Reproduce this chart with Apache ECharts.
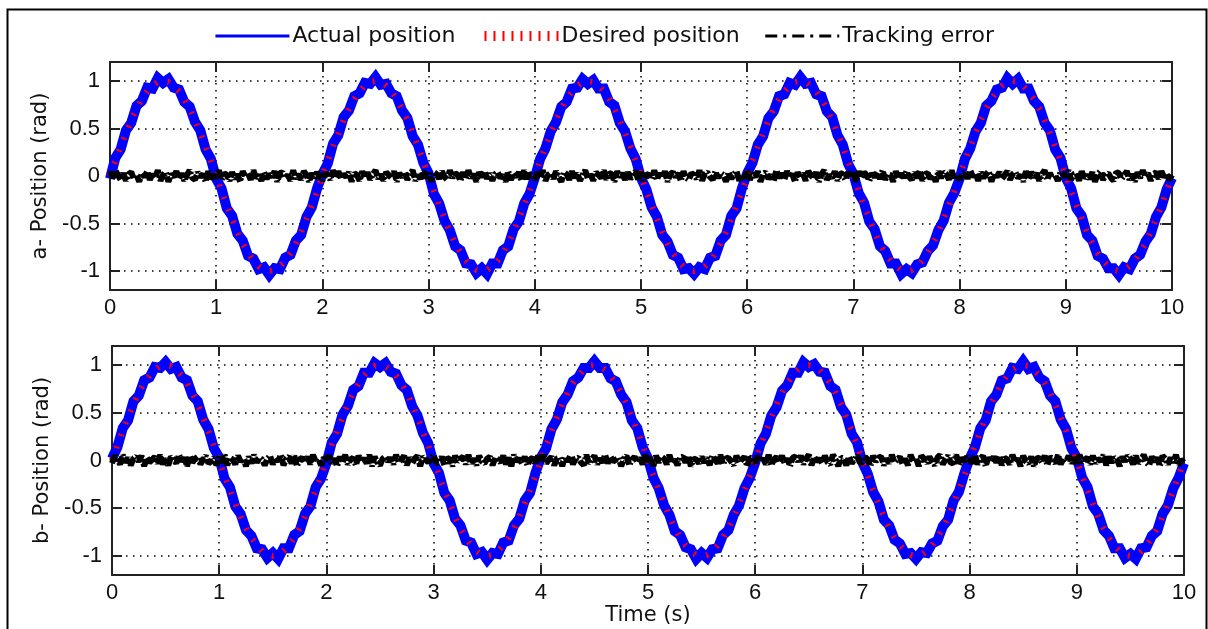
<!DOCTYPE html>
<html><head><meta charset="utf-8">
<script src="https://cdn.jsdelivr.net/npm/echarts@6/dist/echarts.min.js"></script>
<style>html,body{margin:0;padding:0;background:#fff}#c{width:1208px;height:629px}</style>
</head><body><div id="c"></div>
<script>
// Sampling steps (s)
const posStep = 0.05;
const errStep = 0.025;
const xTicks = [0,1,2,3,4,5,6,7,8,9,10];
const seriesNames = ['Actual position', 'Desired position', 'Tracking error'];

// Desired position (rad), t = 0..10 step 0.05 (same reference in both panels)
const desiredPosition = [
0,.16,.31,.45,.59,.71,.81,.89,.95,.99,1,.99,.95,.89,.81,.71,.59,.45,.31,.16,0,-.16,-.31,-.45,-.59,-.71,-.81,-.89,-.95,-.99,-1,-.99,-.95,-.89,-.81,-.71,-.59,-.45,-.31,-.16,
0,.16,.31,.45,.59,.71,.81,.89,.95,.99,1,.99,.95,.89,.81,.71,.59,.45,.31,.16,0,-.16,-.31,-.45,-.59,-.71,-.81,-.89,-.95,-.99,-1,-.99,-.95,-.89,-.81,-.71,-.59,-.45,-.31,-.16,
0,.16,.31,.45,.59,.71,.81,.89,.95,.99,1,.99,.95,.89,.81,.71,.59,.45,.31,.16,0,-.16,-.31,-.45,-.59,-.71,-.81,-.89,-.95,-.99,-1,-.99,-.95,-.89,-.81,-.71,-.59,-.45,-.31,-.16,
0,.16,.31,.45,.59,.71,.81,.89,.95,.99,1,.99,.95,.89,.81,.71,.59,.45,.31,.16,0,-.16,-.31,-.45,-.59,-.71,-.81,-.89,-.95,-.99,-1,-.99,-.95,-.89,-.81,-.71,-.59,-.45,-.31,-.16,
0,.16,.31,.45,.59,.71,.81,.89,.95,.99,1,.99,.95,.89,.81,.71,.59,.45,.31,.16,0,-.16,-.31,-.45,-.59,-.71,-.81,-.89,-.95,-.99,-1,-.99,-.95,-.89,-.81,-.71,-.59,-.45,-.31,-.16,
0];

// Actual position, panel a (rad), step 0.05
const actualA = [
-.03,.19,.28,.48,.56,.74,.79,.93,.92,1.03,.98,1.02,.93,.91,.78,.73,.57,.48,.28,.18,-.03,-.13,-.34,-.42,-.61,-.68,-.84,-.87,-.98,-.96,-1.04,-.97,-.98,-.86,-.83,-.68,-.62,-.43,-.33,-.13,
.02,.13,.34,.43,.62,.69,.84,.87,.98,.97,1.04,.96,.97,.87,.84,.69,.61,.42,.33,.14,.03,-.19,-.29,-.47,-.57,-.74,-.78,-.92,-.93,-1.02,-.97,-1.03,-.92,-.92,-.78,-.74,-.56,-.48,-.29,-.19,
-.02,.18,.29,.47,.57,.73,.78,.92,.93,1.02,.97,1.01,.92,.92,.78,.74,.56,.47,.29,.18,-.02,-.14,-.33,-.43,-.62,-.69,-.83,-.86,-.98,-.97,-1.03,-.96,-.98,-.86,-.84,-.68,-.62,-.42,-.34,-.13,
.03,.14,.33,.42,.61,.68,.84,.86,.98,.96,1.04,.97,.98,.86,.84,.68,.62,.43,.33,.13,.02,-.18,-.28,-.48,-.56,-.74,-.79,-.92,-.92,-1.03,-.98,-1.02,-.93,-.91,-.79,-.73,-.57,-.47,-.28,-.18,
-.03,.18,.29,.47,.56,.74,.79,.91,.93,1.03,.97,1.02,.92,.92,.79,.73,.56,.48,.28,.19,-.02,-.13,-.34,-.42,-.62,-.68,-.84,-.87,-.97,-.97,-1.04,-.96,-.98,-.87,-.83,-.69,-.61,-.43,-.33,-.14,
-.02];

// Actual position, panel b (rad), step 0.05
const actualB = [
.02,.14,.34,.42,.62,.68,.84,.87,.98,.97,1.03,.96,.98,.87,.84,.68,.62,.43,.33,.13,.03,-.19,-.28,-.48,-.56,-.73,-.79,-.92,-.93,-1.02,-.97,-1.03,-.92,-.92,-.78,-.74,-.56,-.48,-.28,-.19,
-.03,.19,.28,.48,.57,.74,.78,.92,.92,1.02,.98,1.02,.93,.91,.79,.74,.57,.47,.29,.18,-.03,-.13,-.34,-.42,-.61,-.68,-.84,-.86,-.98,-.96,-1.04,-.97,-.98,-.86,-.84,-.68,-.61,-.42,-.34,-.13,
.03,.13,.33,.43,.61,.69,.83,.87,.97,.97,1.04,.97,.97,.86,.83,.69,.61,.42,.34,.14,.02,-.18,-.29,-.47,-.57,-.74,-.78,-.91,-.93,-1.03,-.97,-1.02,-.93,-.92,-.78,-.73,-.57,-.47,-.29,-.18,
-.02,.18,.28,.47,.56,.73,.79,.92,.92,1.03,.98,1.01,.93,.92,.78,.74,.56,.48,.28,.19,-.02,-.14,-.33,-.43,-.62,-.68,-.83,-.87,-.98,-.97,-1.03,-.96,-.97,-.87,-.84,-.69,-.62,-.42,-.33,-.14,
.02,.14,.34,.42,.62,.69,.84,.86,.97,.96,1.04,.96,.98,.87,.83,.68,.62,.43,.33,.13,.03,-.18,-.28,-.48,-.56,-.73,-.79,-.92,-.92,-1.02,-.98,-1.03,-.92,-.91,-.79,-.74,-.56,-.47,-.29,-.18,
-.03];

// Tracking error, panel a (rad), step 0.025
const errorA = [
.05,-.02,.06,.01,-.04,.03,-.05,.02,.04,-.03,.01,-.06,.03,-.01,.05,-.04,.02,-.02,.06,-.05,
.01,.04,-.06,.02,-.01,.05,-.03,.03,-.05,.01,.06,-.02,-.04,.04,-.01,.02,-.06,.05,-.03,.01,
-.02,.06,-.04,.03,.01,-.05,.04,-.03,.02,-.06,.05,-.01,.03,-.04,.06,-.02,.01,-.05,.04,-.03,
.02,-.01,.05,-.06,.03,.04,-.02,.01,-.05,.06,-.03,.02,-.04,.05,.01,-.06,.03,-.02,.04,-.01,
-.05,.03,.01,-.04,.06,-.02,.05,-.03,.02,-.01,.04,-.06,.03,.01,-.05,.05,-.02,.04,-.04,.02,
.06,-.03,.02,-.05,.04,.01,-.02,.05,-.06,.03,-.01,.04,-.04,.02,.06,-.05,.01,-.03,.05,-.02,
.03,-.06,.04,.02,-.03,.05,-.01,-.04,.06,-.02,.03,.01,-.05,.04,-.03,.06,-.02,.02,-.06,.04,
-.01,.05,-.03,.03,-.05,.02,.04,-.02,.01,-.06,.05,-.04,.03,-.01,.04,-.05,.06,-.03,.02,.01,
-.04,.04,-.02,.06,-.05,.01,.03,-.03,.05,-.01,-.06,.04,.02,-.04,.05,-.02,.03,-.05,.01,.06,
-.03,.02,-.05,.04,.01,-.02,.06,-.04,.03,.02,-.06,.05,-.01,.03,-.04,.04,-.03,.01,.05,-.05,
.04,-.05,.02,.01,-.03,.06,-.04,.03,-.02,.05,-.06,.02,.04,-.01,.03,-.05,.05,-.02,-.04,.03,
.01,-.03,.06,-.05,.02,.04,-.01,-.04,.05,-.02,.03,.01,-.06,.04,-.03,.02,.05,-.05,.01,-.02,
.06,-.04,.03,-.01,.05,-.06,.02,.04,-.03,.01,-.05,.06,-.02,.03,-.04,.05,-.01,.02,-.06,.04,
-.02,.03,-.05,.05,.01,-.03,.04,-.06,.02,.06,-.04,.01,-.02,.05,-.05,.03,.02,-.04,.04,-.01,
.03,-.06,.05,-.02,.04,.01,-.05,.03,-.01,.04,-.03,.06,-.04,.02,.01,-.06,.05,-.03,.03,-.02,
.05,-.01,-.04,.04,-.02,.06,-.05,.02,.03,-.03,.01,-.06,.05,-.02,.04,.02,-.04,.06,-.03,.01,
-.04,.02,.05,-.03,.06,-.01,.03,-.05,.04,-.02,.02,.05,-.06,.03,-.01,.04,-.03,.01,.05,-.04,
.02,.04,-.02,.01,-.06,.05,-.03,.04,-.01,.03,-.05,.02,.06,-.04,.03,-.02,.01,-.05,.04,.02,
-.01,.06,-.04,.02,.03,-.05,.05,-.02,.01,-.03,.04,-.06,.02,.05,-.04,.01,.03,-.02,-.05,.04,
.03,-.03,.01,.05,-.04,.02,-.06,.04,-.02,.06,-.01,.03,-.05,.02,.04,-.03,.05,-.01,.02,-.04,
.01];

// Tracking error, panel b (rad), step 0.025
const errorB = [
-.03,.05,.01,-.04,.06,-.02,.03,-.05,.02,.04,-.01,.05,-.06,.03,-.02,.01,.04,-.03,.06,-.04,
.02,-.05,.04,.01,-.03,.06,-.01,.03,-.06,.05,-.02,.02,.04,-.04,.01,.05,-.03,-.01,.03,-.05,
.04,-.02,.06,-.05,.03,.01,-.04,.05,-.01,.02,-.06,.04,-.03,.06,-.02,.03,.01,-.05,.02,.05,
-.04,.03,-.01,.06,-.05,.02,.04,-.03,.05,-.06,.01,.03,-.02,.04,-.04,.06,-.01,.02,-.05,.03,
.01,.05,-.03,.02,-.06,.04,-.02,.06,-.04,.01,.03,-.05,.05,-.01,.02,-.03,.06,-.06,.04,-.02,
-.05,.02,.04,-.01,.03,-.04,.06,-.02,.01,.05,-.05,.03,-.03,.02,.05,-.06,.04,.01,-.02,.03,
.06,-.03,-.02,.04,-.05,.03,.01,-.06,.05,-.01,.02,.04,-.04,.06,-.03,.02,-.05,.05,-.01,-.03,
.02,.04,-.05,.03,.01,-.02,.05,-.04,.03,-.06,.06,-.01,.02,-.03,.04,-.05,.01,.03,-.04,.05,
-.02,.06,-.03,.01,.04,-.05,.02,.03,-.06,.04,-.01,.05,-.04,.02,.03,-.02,-.05,.06,-.03,.01,
.05,-.04,.02,-.02,.06,-.03,.04,-.01,.01,.03,-.06,.02,.05,-.05,.01,.04,-.02,.03,-.04,.06,
-.01,.03,-.06,.05,-.02,.04,.02,-.04,.06,-.03,.01,-.05,.03,.04,-.02,.05,-.06,.02,.01,-.03,
.04,-.02,.03,-.05,.05,.01,-.03,.06,-.04,.02,.03,-.01,-.05,.05,-.02,.01,.04,-.06,.03,.02,
-.03,.05,-.01,.02,-.04,.06,-.05,.01,.04,-.02,.05,-.03,.02,-.06,.03,.04,-.01,.05,-.04,.02,
.06,-.05,.04,-.01,.02,-.03,.05,-.02,-.04,.06,.01,-.06,.03,.02,-.05,.04,-.03,.01,.05,-.02,
-.02,.04,.01,-.06,.05,-.01,.03,.04,-.05,.02,-.03,.06,-.02,.01,.04,-.04,.02,-.05,.06,-.01,
.03,-.06,.05,.02,-.03,.04,-.01,-.05,.03,.06,-.04,.01,.05,-.03,-.02,.06,-.05,.03,-.01,.04,
.01,-.03,.06,-.04,.02,.05,-.06,.03,-.01,.04,-.02,.05,-.05,.03,.01,-.04,.06,-.02,.02,-.06,
.05,-.01,-.03,.04,-.06,.02,.03,-.02,.05,-.05,.04,.01,-.03,.06,-.04,.02,-.01,.05,-.03,.03,
-.05,.06,-.02,.01,.03,-.04,.05,-.03,.02,-.01,.06,-.05,.04,-.02,.03,.01,-.06,.04,-.01,.05,
.02,-.04,.05,-.03,.01,.06,-.02,-.05,.04,-.01,.03,-.06,.05,.02,-.04,.03,-.02,.06,-.05,.01,
-.02];

const pairs = (arr, step) => arr.map((v, i) => [+(i * step).toFixed(3), v]);

const textFont = 'DejaVu Sans';
const tickFont = 'Liberation Sans';
const grids = [
  {left: 110, top: 62, width: 1062, height: 228},
  {left: 112, top: 346, width: 1072, height: 229}
];
const yNames = ['a- Position (rad)', 'b- Position (rad)'];
const dotted = {show: true, lineStyle: {color: '#000', width: 1.5, type: [1.5, 5.5]}};
const axLine = {show: true, onZero: false, lineStyle: {color: '#222', width: 2}};
const tick = {show: true, inside: true, length: 10, lineStyle: {color: '#222', width: 2}};

const xAxes = [], yAxes = [];
grids.forEach((g, gi) => {
  xAxes.push({
    type: 'value', gridIndex: gi, position: 'bottom', min: xTicks[0], max: xTicks[xTicks.length - 1], interval: 1,
    axisLine: axLine, axisTick: tick, splitLine: dotted,
    axisLabel: {color: '#111', fontFamily: tickFont, fontSize: 22, margin: 7},
    name: gi === 1 ? 'Time (s)' : '', nameLocation: 'middle', nameGap: 21,
    nameTextStyle: {color: '#111', fontFamily: textFont, fontSize: 21}
  });
  xAxes.push({
    type: 'value', gridIndex: gi, position: 'top', min: 0, max: 10, interval: 1,
    axisLine: axLine, axisTick: tick, splitLine: {show: false}, axisLabel: {show: false}
  });
  yAxes.push({
    type: 'value', gridIndex: gi, position: 'left', min: -1.2, max: 1.2, splitNumber: 5,
    axisLine: axLine, axisTick: tick, splitLine: dotted,
    axisLabel: {color: '#111', fontFamily: tickFont, fontSize: 22, margin: 10, showMinLabel: false, showMaxLabel: false},
    name: yNames[gi], nameLocation: 'middle', nameGap: 58,
    nameTextStyle: {color: '#111', fontFamily: textFont, fontSize: 21}
  });
  yAxes.push({
    type: 'value', gridIndex: gi, position: 'right', min: -1.2, max: 1.2, splitNumber: 5,
    axisLine: axLine, axisTick: tick, splitLine: {show: false}, axisLabel: {show: false}
  });
});

const actualArr = [actualA, actualB];
const errorArr = [errorA, errorB];
const series = [];
[0, 1].forEach(gi => {
  series.push({
    name: seriesNames[0], type: 'line', xAxisIndex: gi * 2, yAxisIndex: gi * 2,
    data: pairs(actualArr[gi], posStep), symbol: 'none', z: 2,
    lineStyle: {color: '#0000ff', width: 10, join: 'miter'}, itemStyle: {color: '#0000ff'}
  });
  series.push({
    name: seriesNames[1], type: 'line', xAxisIndex: gi * 2, yAxisIndex: gi * 2,
    data: pairs(desiredPosition, posStep), symbol: 'none', z: 3,
    lineStyle: {color: '#ff0000', width: 6, type: [2, 11]}, itemStyle: {color: '#ff0000'}
  });
  series.push({
    name: seriesNames[2], type: 'line', xAxisIndex: gi * 2, yAxisIndex: gi * 2,
    data: pairs(errorArr[gi], errStep), symbol: 'none', z: 4,
    lineStyle: {color: '#000', width: 6, type: [10, 2, 2, 2]}, itemStyle: {color: '#000'}
  });
});

const hiddenSymbol = {color: 'rgba(0,0,0,0)', opacity: 0, borderWidth: 0};
const chart = echarts.init(document.getElementById('c'), null, {renderer: 'canvas'});
chart.setOption({
  backgroundColor: '#fff',
  animation: false,
  grid: grids,
  xAxis: xAxes,
  yAxis: yAxes,
  legend: {
    top: 20, left: 'center', itemWidth: 74, itemHeight: 12, itemGap: 24,
    textStyle: {color: '#111', fontFamily: textFont, fontSize: 22, padding: [0, 0, 0, -2]},
    data: [
      {name: seriesNames[0], itemStyle: hiddenSymbol, lineStyle: {width: 3}},
      {name: seriesNames[1], itemStyle: hiddenSymbol, lineStyle: {width: 10, type: [2, 7]}},
      {name: seriesNames[2], itemStyle: hiddenSymbol, lineStyle: {width: 3, type: [12, 6, 3, 6]}}
    ]
  },
  graphic: [{
    type: 'rect', left: 5, top: 7, z: 100, silent: true,
    shape: {width: 1199, height: 640},
    style: {fill: 'none', stroke: '#000', lineWidth: 2}
  }],
  series: series
});
</script>
</body></html>
